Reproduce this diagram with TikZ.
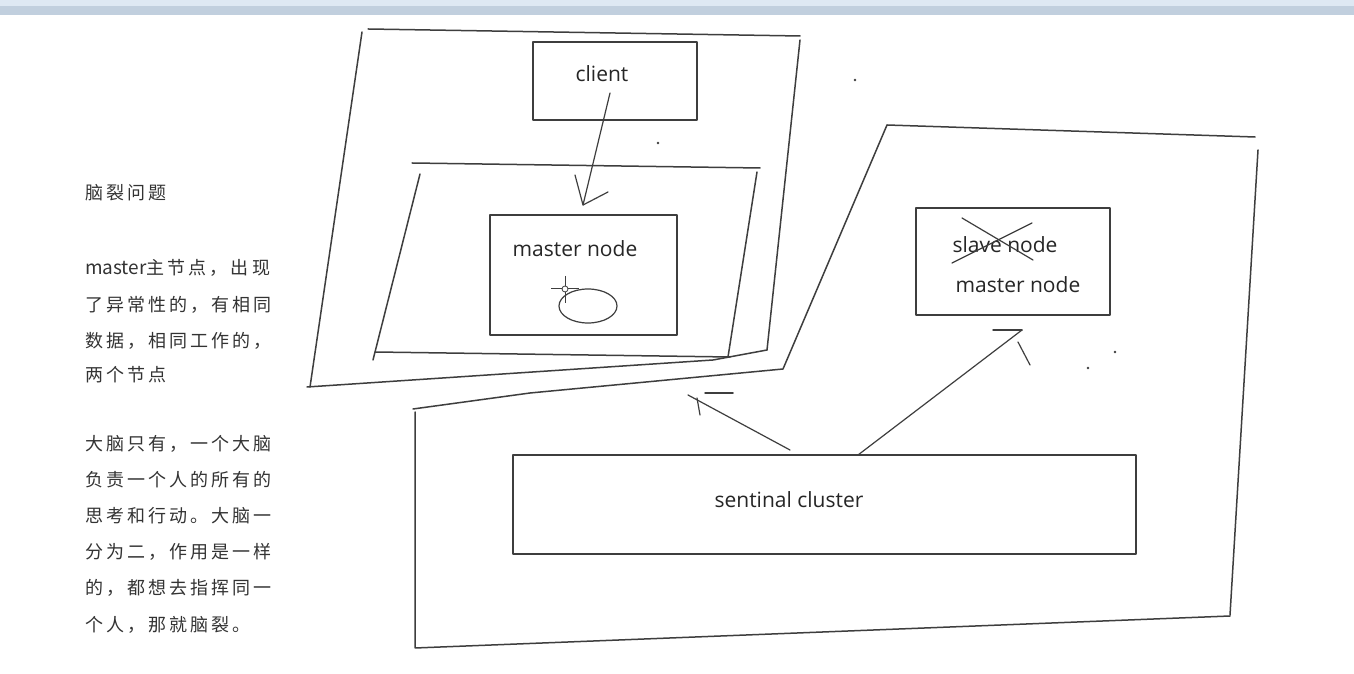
\documentclass[tikz,border=0pt]{standalone}
\usepackage{fontspec}
\setmainfont{Open Sans}
\newfontfamily\cjk[LetterSpace=17]{Noto Sans CJK SC}
\newfontfamily\cjkplain{Noto Sans CJK SC}
\definecolor{pen}{RGB}{62,62,62}
\definecolor{barlight}{RGB}{222,232,243}
\definecolor{bardark}{RGB}{193,207,222}
\tikzset{
  box/.style={draw=pen,line width=1.4bp,inner sep=0pt},
  lbl/.style={inner sep=0pt,font=\fontsize{21bp}{24bp}\selectfont,text=black!85},
  note/.style={inner sep=0pt,anchor=west,font=\cjk\fontsize{18bp}{22bp}\selectfont,text=black!80},
  stroke/.style={draw=pen,line width=1.5bp,line cap=round},
}
\begin{document}
\begin{tikzpicture}[line join=bevel]
%%
\fill [white] (0bp,0bp) rectangle (1354bp,674bp);
\useasboundingbox (0bp,0bp) rectangle (1354bp,674bp);
\fill [barlight] (0bp,668bp) rectangle (1354bp,674bp);
\fill [bardark] (0bp,659bp) rectangle (1354bp,668bp);
%
\foreach \name/\y/\txt in {t1/481/脑裂问题, t2/406/{\cjkplain\fontsize{19bp}{22bp}\selectfont master}主节点，出现, t3/369/了异常性的，有相同,
    t4/333/数据，相同工作的，, t5/299/两个节点, t6/230/大脑只有，一个大脑, t7/194/负责一个人的所有的,
    t8/158/思考和行动。大脑一, t9/122/分为二，作用是一样, t10/86/的，都想去指挥同一, t11/49/个人，那就脑裂。}
  \node (note_\name) at (85bp,\y bp) [note] {\txt};
%
\draw [stroke] (368bp,645bp) -- (800bp,638bp);
\draw [stroke] (362bp,642bp) -- (310bp,287bp);
\draw [stroke] (800bp,634bp) -- (767bp,324bp);
\draw [stroke] (307bp,287bp) -- (713bp,314bp) -- (767bp,324bp);
%
\draw [stroke] (412bp,511bp) -- (760bp,506bp);
\draw [stroke] (420bp,500bp) -- (373bp,314bp);
\draw [stroke] (375bp,322bp) -- (730bp,317bp);
\draw [stroke] (757bp,502bp) -- (728bp,317bp);
%
\draw [stroke] (887bp,549bp) -- (1255bp,537bp);
\draw [stroke] (1258bp,524bp) -- (1230bp,59bp);
\draw [stroke] (1230bp,58bp) -- (415bp,26bp) -- (415bp,262bp);
\draw [stroke] (413bp,265bp) -- (530bp,281bp) -- (783bp,305bp) -- (887bp,549bp);
%
\node (node_client) at (615bp,593bp) [box,minimum width=164bp,minimum height=78bp] {};
\node (lbl_client) at (602bp,600bp) [lbl] {client};
\node (node_master) at (583.5bp,399bp) [box,minimum width=187bp,minimum height=120bp] {};
\node (lbl_master) at (575bp,425bp) [lbl] {master node};
\node (node_slave) at (1013bp,412.5bp) [box,minimum width=194bp,minimum height=107bp] {};
\node (lbl_slave) at (1005bp,429bp) [lbl] {slave node};
\node (lbl_newmaster) at (1018bp,389bp) [lbl] {master node};
\node (node_sentinal) at (824.5bp,169.5bp) [box,minimum width=623bp,minimum height=99bp] {};
\node (lbl_sentinal) at (789bp,174bp) [lbl] {sentinal cluster};
%
\draw [stroke,line width=1.2bp] (962bp,456bp) -- (1033bp,414bp);
\draw [stroke,line width=1.2bp] (952bp,411bp) -- (1032bp,451bp);
\draw [draw=pen,line width=1.2bp] (588bp,368bp) ellipse (29bp and 17bp);
\draw [draw=pen,line width=1bp] (551bp,385bp) -- (579bp,385bp) (565bp,398bp) -- (565bp,371bp);
\draw [draw=pen,fill=white,line width=0.8bp] (565bp,385bp) circle (3bp);
%
\coordinate (from_client) at (610bp,581bp);
\coordinate (to_master) at (583bp,469bp);
\coordinate (from_sent_a) at (790bp,224bp);
\coordinate (to_old) at (688bp,279bp);
\coordinate (from_sent_b) at (858bp,219bp);
\coordinate (to_slave) at (1022bp,344bp);
\draw [stroke,line width=1.2bp] (from_client) -- (to_master);
\draw [stroke,line width=1.2bp] (575bp,499bp) -- (to_master) -- (608bp,482bp);
\draw [stroke,line width=1.2bp] (from_sent_a) -- (to_old);
\draw [stroke,line width=1.2bp] (697bp,276bp) -- (700bp,259bp);
\draw [stroke] (705bp,281bp) -- (733bp,281bp);
\draw [stroke,line width=1.2bp] (from_sent_b) -- (to_slave);
\draw [stroke] (993bp,344bp) -- (to_slave);
\draw [stroke,line width=1.2bp] (1018bp,332bp) -- (1030bp,309bp);
%
\foreach \p in {(658bp,531bp),(855bp,594bp),(1115bp,322bp),(1088bp,306bp)}
  \fill [pen] \p circle (1.3bp);
%
\end{tikzpicture}
\end{document}
